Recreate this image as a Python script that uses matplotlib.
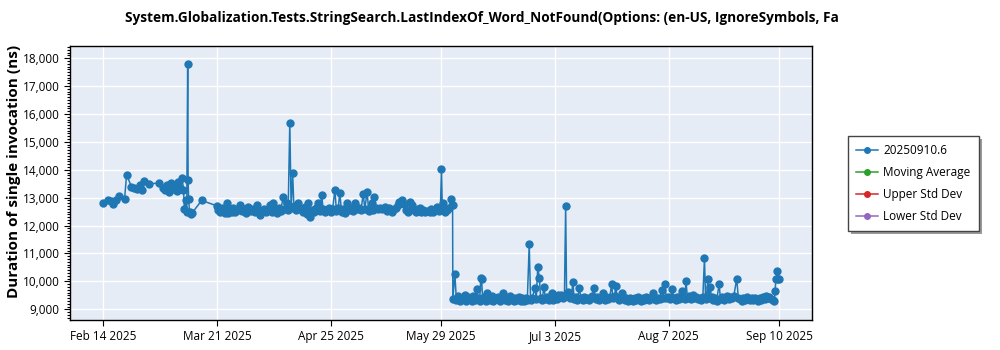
import numpy as np
import pandas as pd
import matplotlib
matplotlib.use("Agg")
import matplotlib.pyplot as plt
from matplotlib.ticker import AutoMinorLocator, FuncFormatter

plt.rcParams['font.family'] = ['Open Sans', 'DejaVu Sans']

title = "System.Globalization.Tests.StringSearch.LastIndexOf_Word_NotFound(Options: (en-US, IgnoreSymbols, Fa"
series_name = "20250910.6"

# --- data, "MM-DD HH" in 2025 ---
early_dates = ["02-14 00", "02-15 12", "02-16 10", "02-17 02", "02-17 22", "02-18 22", "02-20 14",
               "02-21 05", "02-22 17", "02-23 10", "02-24 07", "02-25 07", "02-26 02", "02-26 14",
               "02-28 05", "03-03 02", "03-04 10", "03-05 00", "03-05 14", "03-06 05", "03-06 19",
               "03-07 10", "03-08 02", "03-08 17", "03-09 00", "03-09 14", "03-10 07", "03-10 17",
               "03-11 00", "03-11 10", "03-11 17", "03-12 00", "03-12 03", "03-12 07", "03-12 14",
               "03-13 00", "03-13 10", "03-16 07"]
early_vals = [12820, 12920, 12870, 12780, 12900, 13075, 12960,
              13830, 13380, 13330, 13300, 13460, 13260, 13600,
              13490, 13530, 13350, 13260, 13470, 13200, 13520,
              13300, 13400, 13230, 13550, 13330, 13720, 13280,
              12580, 12920, 12500, 17780, 13640, 12950, 12480,
              12420, 12460, 12900]

mid_dates = ["03-20 22", "03-21 07", "03-21 20", "03-22 10", "03-22 22", "03-23 12", "03-24 00",
             "03-24 10", "03-25 00", "03-25 14", "03-26 00", "03-26 16", "03-27 08", "03-28 02",
             "03-28 16", "03-29 08", "03-30 00", "03-30 14", "03-31 08", "04-01 00", "04-01 14",
             "04-02 05", "04-02 18", "04-03 06", "04-03 20", "04-04 12", "04-05 04", "04-05 18",
             "04-06 07", "04-06 20", "04-07 07", "04-07 20", "04-08 10", "04-09 00", "04-09 14",
             "04-10 10", "04-10 20", "04-11 10", "04-11 22", "04-12 10", "04-12 20", "04-13 07",
             "04-13 16", "04-14 06", "04-15 00", "04-15 14", "04-16 12", "04-17 04", "04-17 16",
             "04-18 02", "04-18 12", "04-19 04", "04-19 18", "04-20 10", "04-21 05", "04-21 18",
             "04-22 05", "04-22 16", "04-23 06", "04-23 17", "04-24 08", "04-25 00", "04-25 14",
             "04-26 07", "04-26 18", "04-27 08", "04-27 19", "04-28 08", "04-28 22", "04-29 12",
             "04-29 22", "04-30 14", "05-01 06", "05-01 20", "05-02 10", "05-03 00", "05-03 16",
             "05-04 08", "05-05 00", "05-05 12", "05-06 05", "05-06 16", "05-07 02", "05-07 14",
             "05-08 00", "05-08 10", "05-08 22", "05-09 14", "05-10 06", "05-10 22", "05-11 17",
             "05-12 08", "05-12 20", "05-13 05", "05-13 18", "05-14 08", "05-15 00", "05-15 14",
             "05-16 02", "05-16 14", "05-17 02", "05-17 14", "05-18 06", "05-18 20", "05-19 10",
             "05-19 22", "05-20 12", "05-21 04", "05-21 18", "05-22 10", "05-22 22", "05-23 12",
             "05-24 04", "05-24 16", "05-25 12", "05-26 00", "05-26 12", "05-27 02", "05-27 14",
             "05-28 06", "05-28 18", "05-29 02", "05-29 08", "05-29 14", "05-30 04", "05-30 17",
             "05-31 08", "05-31 22", "06-01 12"]
mid_vals = [12710, 12560, 12480, 12620, 12560, 12450, 12800,
            12440, 12580, 12500, 12620, 12470, 12560, 12740,
            12520, 12600, 12450, 12680, 12530, 12610, 12480,
            12740, 12560, 12380, 12520, 12600, 12470, 12560,
            12740, 12500, 12820, 12580, 12450, 12640, 12520,
            13040, 12600, 12800, 12560, 15690, 12620, 13880,
            12700, 12560, 12800, 12600, 12500, 12650, 12420,
            12800, 12290, 12560, 12480, 12620, 12800, 12520,
            13100, 12600, 12480, 12560, 12640, 12470, 12580,
            13280, 12540, 12620, 13180, 12500, 12600, 12450,
            12800, 12560, 12640, 12520, 12820, 12580, 12620,
            12560, 13130, 12600, 13220, 12540, 12640, 12820,
            12560, 13040, 12620, 12600, 12640, 12580, 12680,
            12520, 12620, 12560, 12480, 12600, 12640, 12720,
            12860, 12800, 12900, 12760, 12560, 12500, 12860,
            12740, 12560, 12500, 12580, 12620, 12500, 12560,
            12480, 12540, 12500, 12600, 12480, 12560, 12680,
            12520, 12600, 14030, 12640, 12800, 12500, 12560,
            12640, 12950, 12740]

late_dates = ["06-01 14", "06-02 05", "06-02 16", "06-03 04", "06-03 16", "06-04 04", "06-04 16",
              "06-05 06", "06-05 18", "06-06 08", "06-06 20", "06-07 10", "06-07 22", "06-08 10",
              "06-08 22", "06-09 10", "06-09 20", "06-10 04", "06-10 10", "06-10 18", "06-11 06",
              "06-11 18", "06-12 00", "06-12 12", "06-13 00", "06-13 12", "06-14 00", "06-14 12",
              "06-15 00", "06-15 12", "06-16 00", "06-16 12", "06-17 02", "06-17 14", "06-18 04",
              "06-18 16", "06-19 06", "06-19 18", "06-20 08", "06-20 20", "06-21 10", "06-21 22",
              "06-22 12", "06-23 00", "06-23 12", "06-24 00", "06-24 12", "06-25 02", "06-25 12",
              "06-26 00", "06-26 19", "06-27 06", "06-27 17", "06-28 05", "06-28 14", "06-29 02",
              "06-29 14", "06-30 02", "06-30 14", "07-01 02", "07-01 14", "07-02 00", "07-02 12",
              "07-03 00", "07-03 12", "07-03 22", "07-04 10", "07-04 22", "07-05 10", "07-05 22",
              "07-06 07", "07-06 14", "07-07 02", "07-07 14", "07-08 02", "07-08 12", "07-08 22",
              "07-09 10", "07-09 22", "07-10 12", "07-11 00", "07-11 12", "07-12 00", "07-12 12",
              "07-13 00", "07-13 12", "07-14 00", "07-14 12", "07-15 00", "07-15 12", "07-16 00",
              "07-16 12", "07-17 00", "07-17 19", "07-18 08", "07-18 20", "07-19 10", "07-19 22",
              "07-20 10", "07-20 20", "07-21 08", "07-21 17", "07-22 04", "07-22 16", "07-23 12",
              "07-24 00", "07-24 12", "07-25 00", "07-25 12", "07-26 00", "07-26 12", "07-27 00",
              "07-27 12", "07-28 00", "07-28 12", "07-29 00", "07-29 12", "07-30 00", "07-30 12",
              "07-31 00", "07-31 12", "08-01 00", "08-01 12", "08-02 02", "08-02 14", "08-03 04",
              "08-03 16", "08-04 06", "08-04 19", "08-05 06", "08-05 19", "08-06 06", "08-06 18",
              "08-07 08", "08-07 20", "08-08 02", "08-08 14", "08-09 04", "08-09 16", "08-10 06",
              "08-10 18", "08-11 00", "08-11 12", "08-12 00", "08-12 07", "08-12 18", "08-13 06",
              "08-13 18", "08-14 08", "08-14 20", "08-15 10", "08-15 22", "08-16 12", "08-17 00",
              "08-17 12", "08-18 00", "08-18 08", "08-18 16", "08-19 00", "08-19 08", "08-19 17",
              "08-20 04", "08-20 16", "08-21 06", "08-21 18", "08-22 12", "08-22 22", "08-23 12",
              "08-24 00", "08-24 12", "08-25 00", "08-25 12", "08-26 00", "08-26 12", "08-27 00",
              "08-27 22", "08-28 10", "08-28 22", "08-29 12", "08-30 00", "08-30 12", "08-31 00",
              "08-31 12", "09-01 00", "09-01 12", "09-02 00", "09-02 12", "09-03 00", "09-03 12",
              "09-04 00", "09-04 12", "09-05 00", "09-05 12", "09-06 00", "09-06 12", "09-07 00",
              "09-07 12", "09-08 00", "09-08 12", "09-08 17", "09-09 00", "09-09 10", "09-09 18",
              "09-10 00"]
late_vals = [9380, 10250, 9350, 9470, 9300, 9420, 9360,
             9500, 9290, 9440, 9380, 9310, 9460, 9350,
             9730, 9400, 9300, 10110, 10100, 9380, 9450,
             9310, 9600, 9400, 9340, 9470, 9300, 9410,
             9360, 9450, 9290, 9390, 9600, 9340, 9420,
             9310, 9460, 9370, 9300, 9410, 9340, 9450,
             9310, 9390, 9290, 9420, 9350, 11330, 9320,
             9400, 9760, 9380, 10520, 10110, 9420, 9330,
             9810, 9380, 9450, 9320, 9400, 9600, 9350,
             9440, 9380, 9500, 9460, 9520, 9420, 9480,
             12700, 9460, 9620, 9400, 9470, 9990, 9380,
             9430, 9340, 9760, 9400, 9320, 9440, 9360,
             9420, 9330, 9400, 9460, 9750, 9380, 9430,
             9320, 9410, 9600, 9350, 9440, 9380, 9450,
             9910, 9420, 9460, 9840, 9400, 9350, 9570,
             9420, 9340, 9400, 9310, 9410, 9360, 9300,
             9400, 9340, 9430, 9380, 9300, 9410, 9350,
             9440, 9390, 9340, 9420, 9575, 9380, 9320,
             9420, 9380, 9690, 9420, 9910, 9400, 9450,
             9380, 9440, 9720, 9400, 9340, 9430, 9380,
             9460, 9660, 9400, 9370, 10030, 9420, 9460,
             9380, 9520, 9400, 9450, 9370, 9420, 9350,
             9440, 10830, 9370, 9450, 10080, 9400, 9810,
             9440, 9350, 9420, 9310, 9900, 9380, 9430,
             9340, 9410, 9460, 9370, 9440, 9400, 9460,
             10090, 9420, 9370, 9310, 9410, 9350, 9440,
             9380, 9320, 9400, 9340, 9420, 9380, 9300,
             9410, 9350, 9430, 9380, 9460, 9400, 9440,
             9380, 9320, 9290, 9660, 10090, 10380, 10080,
             10090]

moving_avg = []
upper_std = []
lower_std = []

tick_dates = ["2025-02-14", "2025-03-21", "2025-04-25", "2025-05-29",
              "2025-07-03", "2025-08-07", "2025-09-10"]

dates = pd.to_datetime(["2025-" + d for d in early_dates + mid_dates + late_dates], format="%Y-%m-%d %H")
values = early_vals + mid_vals + late_vals

fig = plt.figure(figsize=(10, 3.5), dpi=100)
ax = fig.add_axes([0.07, 0.086, 0.742, 0.783])
ax.set_facecolor('#e5ecf6')
ax.set_axisbelow(True)
ax.grid(True, color='white', linewidth=1)

ax.plot(dates, values, '-o', color='#1f77b4', lw=1.1, ms=5, label=series_name)
ax.plot(moving_avg, moving_avg, '-o', color='#2ca02c', lw=1.1, ms=4, label='Moving Average')
ax.plot(upper_std, upper_std, '-o', color='#d62728', lw=1.1, ms=4, label='Upper Std Dev')
ax.plot(lower_std, lower_std, '-o', color='#9467bd', lw=1.1, ms=4, label='Lower Std Dev')

ax.set_xlim(pd.Timestamp("2025-02-03 19:00"), pd.Timestamp("2025-09-20 02:00"))
ax.set_ylim(8620, 18440)
ticks = pd.to_datetime(tick_dates)
ax.set_xticks(ticks)
ax.set_xticklabels([t.strftime("%b %-d %Y") for t in ticks])
ax.set_yticks(np.arange(9000, 18001, 1000))
ax.yaxis.set_major_formatter(FuncFormatter(lambda v, p: f"{int(v):,}"))
ax.yaxis.set_minor_locator(AutoMinorLocator(10))
ax.tick_params(axis='both', labelsize=8.5, colors='black', length=4)
ax.tick_params(axis='y', which='minor', length=2, width=0.8)
for s in ax.spines.values():
    s.set_color('black')
    s.set_linewidth(1)

ax.set_ylabel("Duration of single invocation (ns)", fontsize=11, fontweight='bold')
ax.yaxis.set_label_coords(-0.066, 0.54)
fig.text(0.125, 1 - 18 / 350, title, fontsize=9.85, fontweight='bold', va='center', ha='left')

leg = fig.legend(loc='center left', bbox_to_anchor=(0.848, 0.476), fontsize=8.5,
                 frameon=True, fancybox=False, framealpha=1, borderaxespad=0,
                 shadow={'facecolor': '#9a9a9a', 'edgecolor': 'none', 'alpha': 1},
                 edgecolor='#444444', handlelength=1.8, handletextpad=0.5,
                 borderpad=0.7, labelspacing=0.75)
leg.get_frame().set_linewidth(1)
for h in leg.legend_handles:
    h.set_markersize(4)

fig.savefig("out.png", dpi=100)
